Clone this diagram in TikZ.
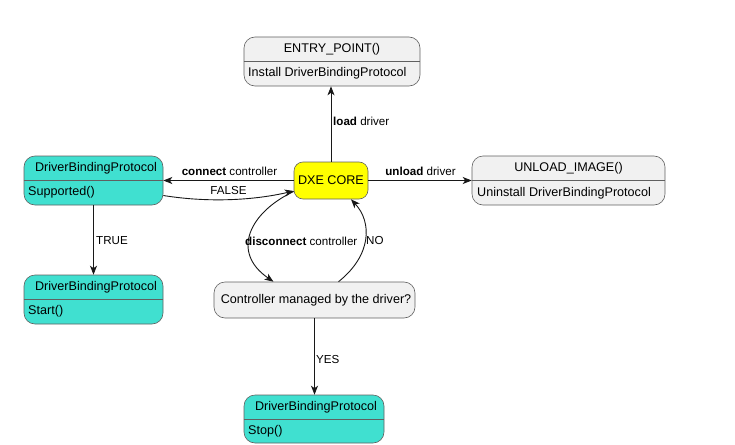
\documentclass[tikz,border=0pt]{standalone}
\usepackage{fontspec}
\setmainfont{Liberation Sans}
\usetikzlibrary{arrows.meta,calc}
\definecolor{boxgray}{HTML}{F1F1F1}
\definecolor{turq}{HTML}{40E0D0}
\definecolor{ink}{HTML}{181818}
\definecolor{edge}{HTML}{606060}
\definecolor{dxeyellow}{HTML}{FFFF00}
\begin{document}
\begin{tikzpicture}[x=1pt,y=-1pt,
  statebox/.style={draw=edge, line width=0.6pt, rounded corners=11pt, inner sep=0pt},
  boxtxt/.style={inner sep=0pt, font=\fontsize{12.6}{15}\selectfont, text=black},
  lbl/.style={inner sep=0pt, font=\fontsize{11.6}{14}\selectfont, text=black},
  conn/.style={draw=ink, line width=0.9pt, -{Stealth[length=9pt,width=7pt,inset=2.5pt]}},
  divider/.style={draw=edge, line width=0.6pt}]
\useasboundingbox (0,0) rectangle (735,444);
% boxes
\node[statebox, fill=boxgray, minimum width=176pt, minimum height=49pt] (entry) at (332,61.5) {};
\draw[divider] (entry.west |- 0,61.5) -- (entry.east |- 0,61.5);
\node[boxtxt] (entryT) at (332,49.5) {ENTRY\_POINT()};
\node[boxtxt, anchor=west] (entryB) at (248,73.5) {Install DriverBindingProtocol};

\node[statebox, fill=turq, minimum width=139pt, minimum height=49pt] (sup) at (93.5,180.5) {};
\draw[divider] (sup.west |- 0,180) -- (sup.east |- 0,180);
\node[boxtxt] (supT) at (96,168) {DriverBindingProtocol};
\node[boxtxt, anchor=west] (supB) at (28,192.5) {Supported()};

\node[statebox, fill=dxeyellow, rounded corners=9pt, minimum width=74pt, minimum height=37pt] (dxe) at (331,180.5) {};
\node[boxtxt] (dxeT) at (331,180.5) {DXE CORE};

\node[statebox, fill=boxgray, minimum width=193pt, minimum height=49pt] (unload) at (568.5,180.5) {};
\draw[divider] (unload.west |- 0,180.5) -- (unload.east |- 0,180.5);
\node[boxtxt] (unloadT) at (568.5,168) {UNLOAD\_IMAGE()};
\node[boxtxt, anchor=west] (unloadB) at (477,193) {Uninstall DriverBindingProtocol};

\node[statebox, fill=turq, minimum width=139pt, minimum height=49pt] (start) at (93.5,299.5) {};
\draw[divider] (start.west |- 0,299.5) -- (start.east |- 0,299.5);
\node[boxtxt] (startT) at (96,287) {DriverBindingProtocol};
\node[boxtxt, anchor=west] (startB) at (28,311.5) {Start()};

\node[statebox, fill=boxgray, minimum width=201pt, minimum height=36pt] (ctrl) at (314.5,300) {};
\node[boxtxt] (ctrlT) at (316,300.5) {Controller managed by the driver?};

\node[statebox, fill=turq, minimum width=140pt, minimum height=48pt] (stop) at (314,419) {};
\draw[divider] (stop.west |- 0,419) -- (stop.east |- 0,419);
\node[boxtxt] (stopT) at (316,407) {DriverBindingProtocol};
\node[boxtxt, anchor=west] (stopB) at (248,431) {Stop()};

% connectors
\draw[conn] (dxe.north) -- (dxe.north |- entry.south);
\draw[conn] (dxe.west) -- (dxe.west -| sup.east);
\draw[conn] (dxe.east) -- (unload.west);
\draw[conn] (sup.south) -- (start.north);
\draw[conn] (ctrl.south) -- (ctrl.south |- stop.north);
\draw[conn] ([yshift=-15pt]sup.east) .. controls (210,203) and (255,200) .. ([yshift=-10.5pt]dxe.west);
\draw[conn] ([yshift=-11pt]dxe.west) .. controls (250,212) and (230,252) .. ([xshift=-41pt]ctrl.north);
\draw[conn] ([xshift=24pt]ctrl.north) .. controls (372,255) and (372,222) .. ([xshift=20pt]dxe.south);

% labels
\node[lbl, anchor=west] (lload) at (333,121) {\textbf{load} driver};
\node[lbl] (lconn) at (229.5,171) {\textbf{connect} controller};
\node[lbl] (lunl) at (420.5,171) {\textbf{unload} driver};
\node[lbl] (lfalse) at (228.5,191) {FALSE};
\node[lbl, anchor=west] (ltrue) at (96,241) {TRUE};
\node[lbl, anchor=west] (ldisc) at (245,241) {\textbf{disconnect} controller};
\node[lbl, anchor=west] (lno) at (366,241) {NO};
\node[lbl, anchor=west] (lyes) at (316,360) {YES};
\end{tikzpicture}
\end{document}
